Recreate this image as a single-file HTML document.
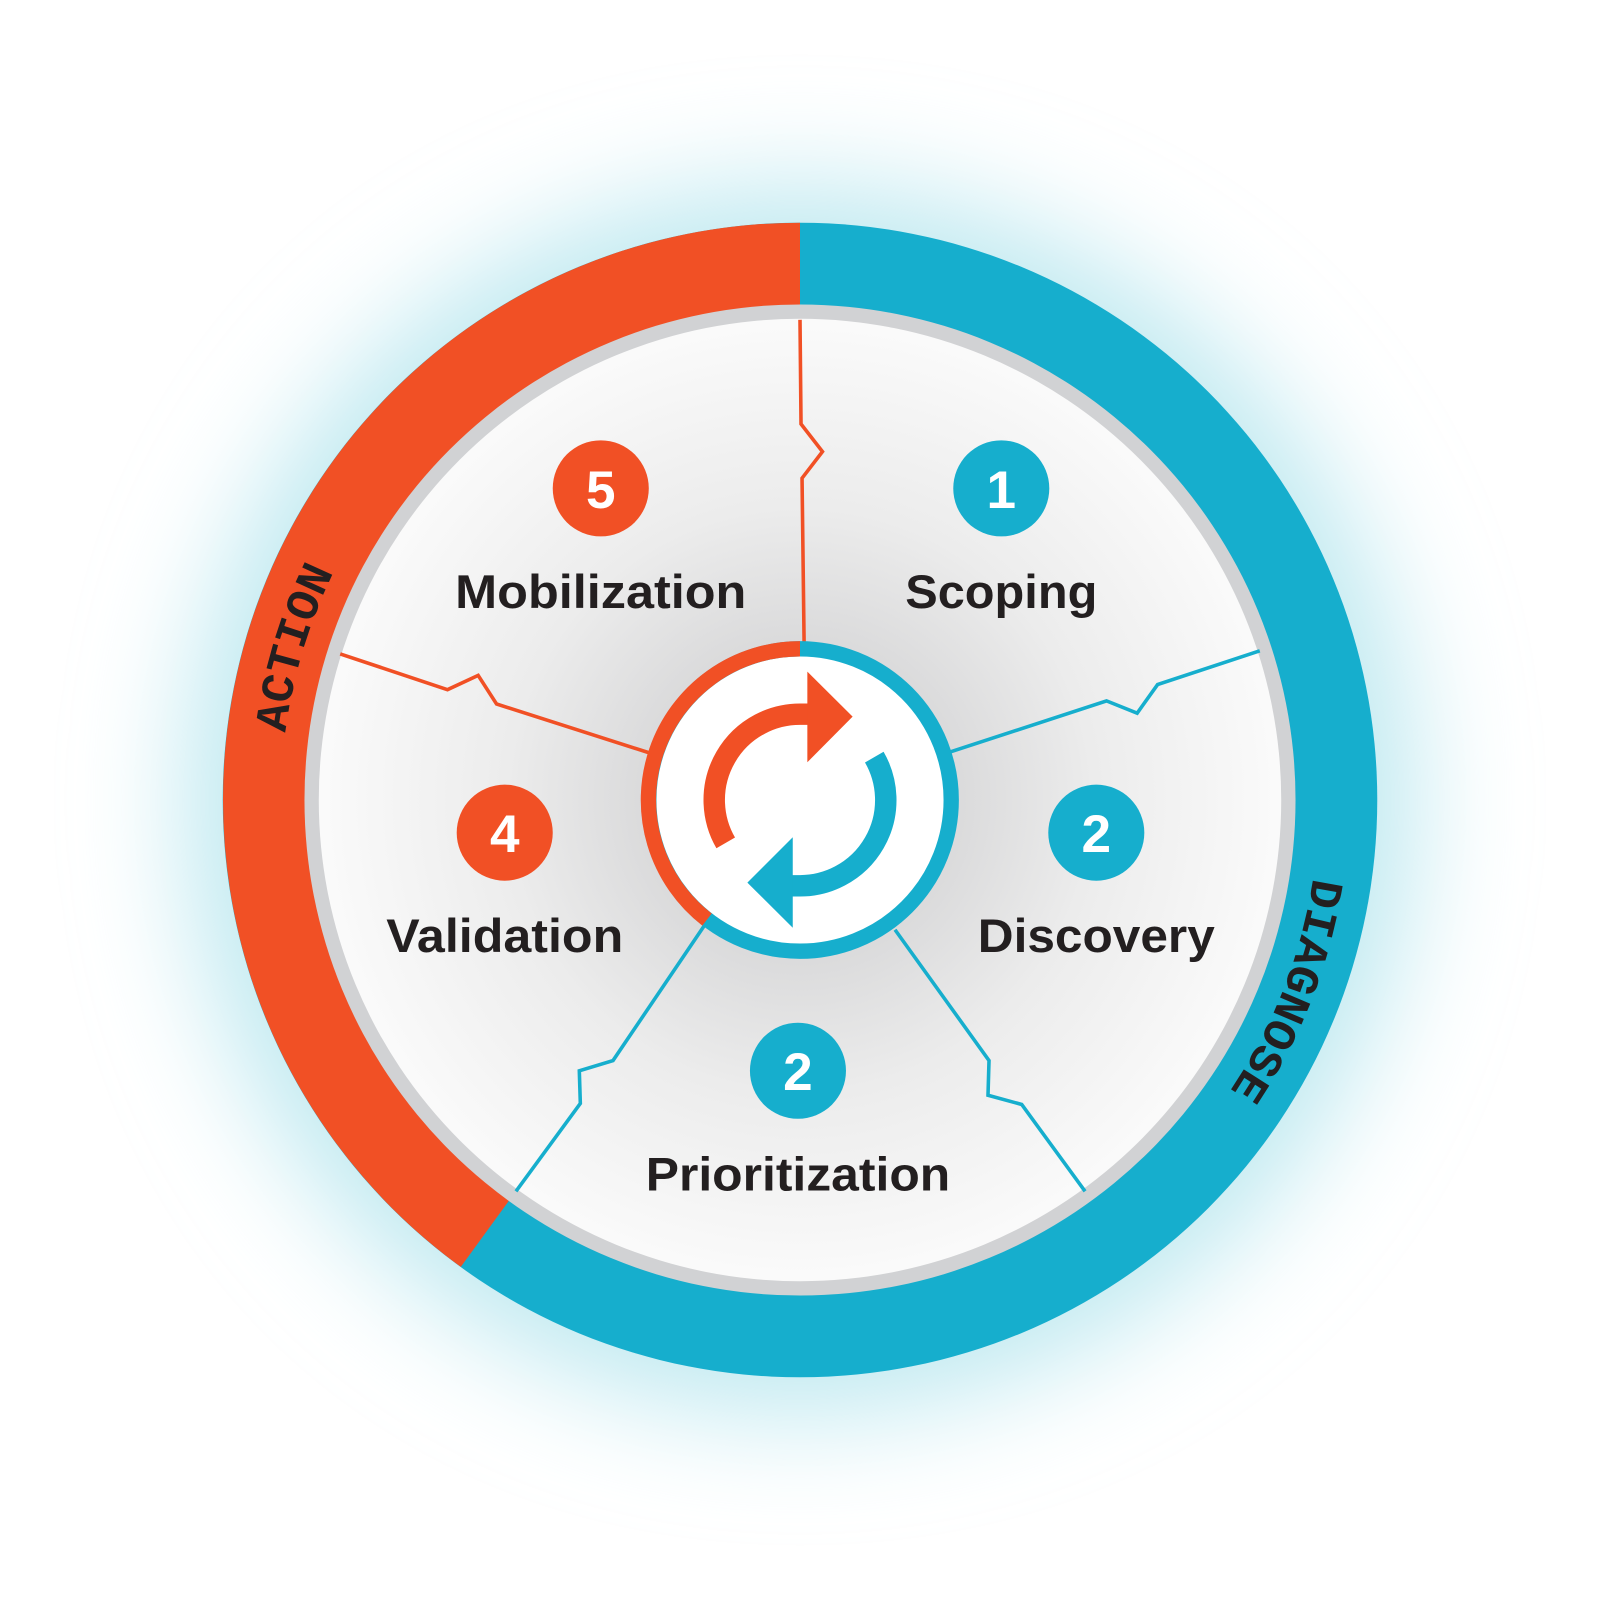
<!DOCTYPE html>
<html><head><meta charset="utf-8"><style>
html,body{margin:0;padding:0;background:#fff;width:1600px;height:1600px;overflow:hidden}
svg{display:block}
.lbl{font-family:"Liberation Sans",sans-serif;font-weight:bold;font-size:46px;fill:#231f20;text-anchor:middle}
.num{font-family:"Liberation Sans",sans-serif;font-weight:bold;font-size:52px;fill:#fff;text-anchor:middle}
.ring{font-family:"Liberation Mono",monospace;font-size:45px;font-weight:bold;fill:#231f20}
</style></head><body>
<svg width="1600" height="1600" viewBox="0 0 1566 1566" xmlns="http://www.w3.org/2000/svg">
<defs>
<filter id="blur" x="-50%" y="-50%" width="200%" height="200%"><feGaussianBlur stdDeviation="55"/></filter>
<radialGradient id="inner" cx="783" cy="783" r="480" gradientUnits="userSpaceOnUse">
<stop offset="0.3" stop-color="#d9d9da"/><stop offset="0.6" stop-color="#ececec"/><stop offset="1" stop-color="#fbfbfb"/>
</radialGradient>
<path id="tp" d="M275,783 A508,508 0 1 1 1291,783 A508,508 0 1 1 275,783"/>
</defs>
<circle cx="783" cy="783" r="600" fill="#bde8f0" filter="url(#blur)"/>
<circle cx="783" cy="783" r="565" fill="#16aecd"/>
<path d="M783,783 L783,218 A565,565 0 0 0 451,1240 Z" fill="#f15025"/>
<circle cx="783" cy="783" r="485" fill="#d1d2d4"/>
<circle cx="783" cy="783" r="471" fill="url(#inner)"/>
<text class="ring"><textPath href="#tp" startOffset="66" textLength="165" lengthAdjust="spacingAndGlyphs">ACTION</textPath></text>
<text class="ring"><textPath href="#tp" startOffset="1672" textLength="226" lengthAdjust="spacingAndGlyphs">DIAGNOSE</textPath></text>
<g fill="none" stroke-width="3.5">
<polyline stroke="#f15025" points="783,313 784,415 805,442 785,468 787,628"/>
<polyline stroke="#f15025" points="333,640 438,675 468,661 486,689 636,737"/>
<polyline stroke="#16aecd" points="1233,637 1133,670 1113,698 1083,686 930,736"/>
<polyline stroke="#16aecd" points="692,902 600,1038 567,1048 568,1080 505,1166"/>
<polyline stroke="#16aecd" points="876,910 968,1038 967,1072 1000,1081 1062,1166"/>
</g>
<circle cx="783" cy="783" r="148" fill="#fff" stroke="#16aecd" stroke-width="15"/>
<path d="M783,635 A148,148 0 0 0 692,900" fill="none" stroke="#f15025" stroke-width="15"/>
<path d="M710.3,825 A84,84 0 0 1 783,699 L792,699" fill="none" stroke="#f15025" stroke-width="21"/>
<polygon points="790.2,657.4 834.5,701.4 790.2,746.1" fill="#f15025"/>
<path d="M855.7,741 A84,84 0 0 1 783,867 L774,867" fill="none" stroke="#16aecd" stroke-width="21"/>
<polygon points="775.9,819.5 731.5,863.9 775.9,908" fill="#16aecd"/>
<circle cx="588" cy="478" r="47" fill="#f15025"/><text class="num" x="588" y="497">5</text>
<circle cx="980" cy="478" r="47" fill="#16aecd"/><text class="num" x="980" y="497">1</text>
<circle cx="1073" cy="815" r="47" fill="#16aecd"/><text class="num" x="1073" y="834">2</text>
<circle cx="494" cy="815" r="47" fill="#f15025"/><text class="num" x="494" y="834">4</text>
<circle cx="781" cy="1048" r="47" fill="#16aecd"/><text class="num" x="781" y="1067">2</text>
<text class="lbl" x="588" y="595" textLength="285" lengthAdjust="spacingAndGlyphs">Mobilization</text>
<text class="lbl" x="980" y="595" textLength="188" lengthAdjust="spacingAndGlyphs">Scoping</text>
<text class="lbl" x="1073" y="932" textLength="232" lengthAdjust="spacingAndGlyphs">Discovery</text>
<text class="lbl" x="494" y="932" textLength="232" lengthAdjust="spacingAndGlyphs">Validation</text>
<text class="lbl" x="781" y="1165" textLength="298" lengthAdjust="spacingAndGlyphs">Prioritization</text>
</svg>
</body></html>
